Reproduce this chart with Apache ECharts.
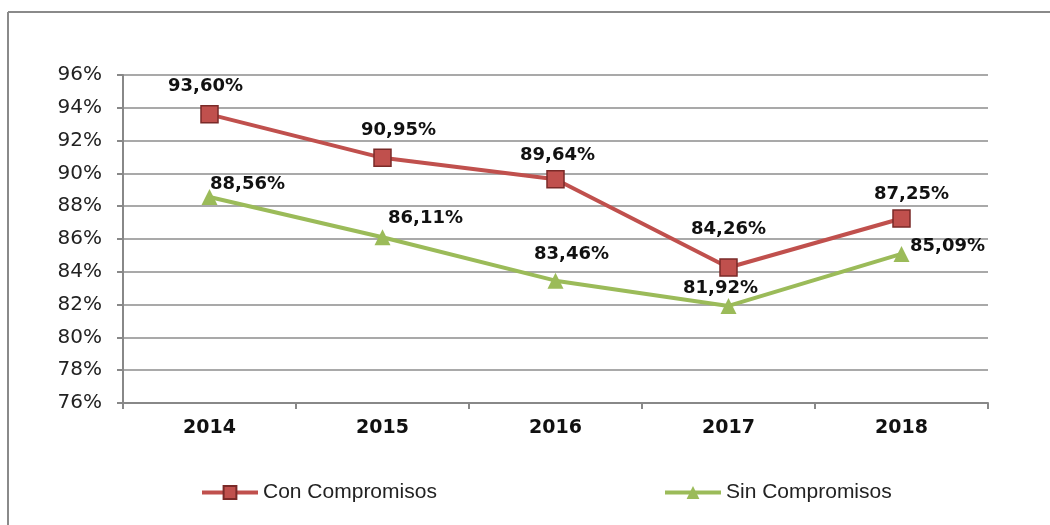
<!DOCTYPE html>
<html>
<head>
<meta charset="utf-8">
<script src="https://cdn.jsdelivr.net/npm/echarts@6/dist/echarts.min.js"></script>
<style>
html,body{margin:0;padding:0;background:#fff;}
#chart{width:1050px;height:525px;}
</style>
</head>
<body>
<div id="chart"></div>
<script>
var categories = ['2014', '2015', '2016', '2017', '2018'];
var conCompromisos = [93.60, 90.95, 89.64, 84.26, 87.25];
var sinCompromisos = [88.56, 86.11, 83.46, 81.92, 85.09];
var yTicks = [76, 78, 80, 82, 84, 86, 88, 90, 92, 94, 96];

// label placement (offsets from the point centre), layout only
var conLabelOffsets = [[-4, -28], [16, -27], [2, -24], [0, -38], [10, -24]];
var sinLabelOffsets = [[38, -13], [43, -19], [16, -26], [-8, -18], [46, -8]];

function fmt(v) { return v.toFixed(2).replace('.', ',') + '%'; }

function buildData(values, offsets) {
  return values.map(function (v, i) {
    return {
      value: v,
      label: { offset: offsets[i] }
    };
  });
}

var labelStyle = {
  show: true,
  position: 'inside',
  color: '#111',
  fontFamily: 'DejaVu Sans',
  fontWeight: 'bold',
  fontSize: 18,
  formatter: function (p) { return fmt(p.value); }
};

var chart = echarts.init(document.getElementById('chart'));
chart.setOption({
  animation: false,
  backgroundColor: '#fff',
  graphic: [
    { type: 'line', shape: { x1: 8, y1: 12, x2: 1050, y2: 12 }, style: { stroke: '#8a8a8a', lineWidth: 2 } },
    { type: 'line', shape: { x1: 8, y1: 12, x2: 8, y2: 525 }, style: { stroke: '#8a8a8a', lineWidth: 2 } }
  ],
  grid: { left: 123, right: 62, top: 75, bottom: 122 },
  legend: [
    {
      data: ['Con Compromisos'], left: 200, top: 482, padding: 0,
      itemWidth: 56, itemHeight: 16, itemGap: 3,
      lineStyle: { width: 4 },
      textStyle: { fontFamily: 'Liberation Sans', fontSize: 21, color: '#222' }
    },
    {
      data: ['Sin Compromisos'], left: 663, top: 482, padding: 0,
      itemWidth: 56, itemHeight: 16, itemGap: 3,
      lineStyle: { width: 4 },
      textStyle: { fontFamily: 'Liberation Sans', fontSize: 21, color: '#222' }
    }
  ],
  xAxis: {
    type: 'category',
    data: categories,
    boundaryGap: true,
    axisLine: { lineStyle: { color: '#888', width: 2 } },
    axisTick: { show: true, length: 6, lineStyle: { color: '#888', width: 2 } },
    axisLabel: { margin: 16, color: '#111', fontFamily: 'DejaVu Sans', fontWeight: 'bold', fontSize: 19 }
  },
  yAxis: {
    type: 'value',
    min: yTicks[0],
    max: yTicks[yTicks.length - 1],
    interval: 2,
    axisLine: { show: true, lineStyle: { color: '#888', width: 2 } },
    axisTick: { show: true, length: 6, lineStyle: { color: '#888', width: 2 } },
    splitLine: { show: true, lineStyle: { color: '#8c8c8c', width: 1.5 } },
    axisLabel: {
      margin: 21, color: '#222', fontFamily: 'DejaVu Sans', fontSize: 20,
      padding: [4, 0, 0, 0],
      formatter: function (v) { return v + '%'; }
    }
  },
  series: [
    {
      name: 'Con Compromisos',
      type: 'line',
      data: buildData(conCompromisos, conLabelOffsets),
      symbol: 'rect',
      symbolSize: 17,
      lineStyle: { color: '#c0504d', width: 4 },
      itemStyle: { color: '#c0504d', borderColor: '#7a2a28', borderWidth: 1.5 },
      label: labelStyle,
      z: 3
    },
    {
      name: 'Sin Compromisos',
      type: 'line',
      data: buildData(sinCompromisos, sinLabelOffsets),
      symbol: 'triangle',
      symbolSize: 16,
      lineStyle: { color: '#9bbb59', width: 4 },
      itemStyle: { color: '#9bbb59', borderColor: '#9bbb59', borderWidth: 0 },
      label: labelStyle,
      z: 2
    }
  ]
});
</script>
</body>
</html>
